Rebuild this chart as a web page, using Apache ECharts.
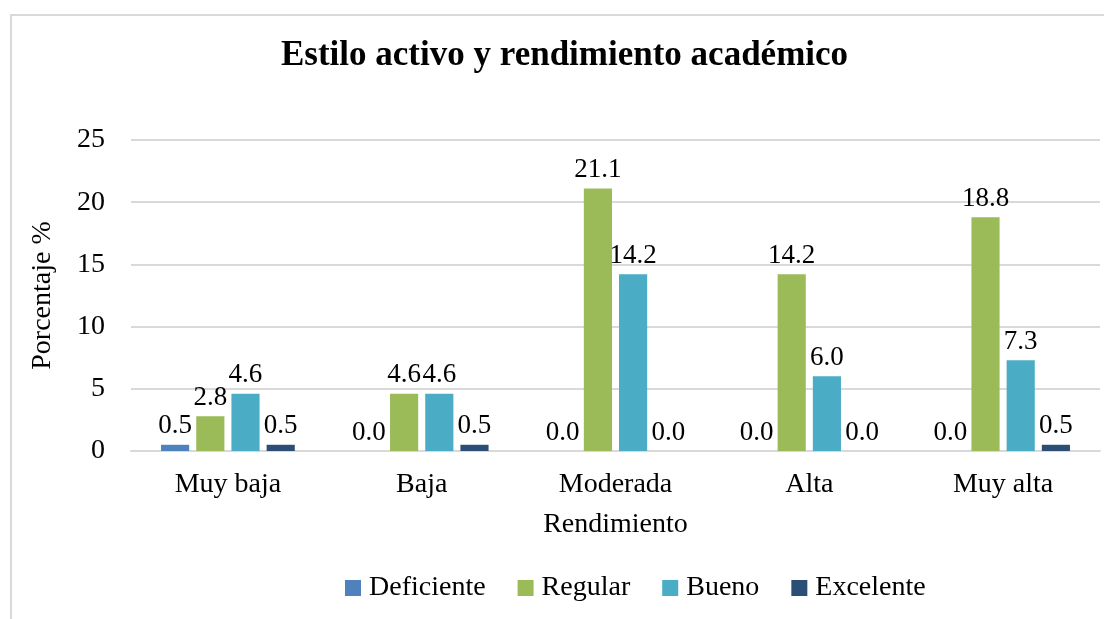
<!DOCTYPE html>
<html>
<head>
<meta charset="utf-8">
<script src="https://cdn.jsdelivr.net/npm/echarts@6/dist/echarts.min.js"></script>
<style>
  html, body { margin: 0; padding: 0; background: #fff; }
  #main { width: 1104px; height: 619px; }
</style>
</head>
<body>
<div id="main"></div>
<script>
// categorias de rendimiento
var categorias = ['Muy baja', 'Baja', 'Moderada', 'Alta', 'Muy alta'];
// porcentajes por nivel
var deficiente = [0.5, 0.0, 0.0, 0.0, 0.0];
var regular = [2.8, 4.6, 21.1, 14.2, 18.8];
var bueno = [4.6, 4.6, 14.2, 6.0, 7.3];
var excelente = [0.5, 0.5, 0.0, 0.0, 0.5];

var fuente = '"Liberation Serif", "Times New Roman", serif';
var chart = echarts.init(document.getElementById('main'));

function serie(nombre, datos) {
  return {
    name: nombre,
    type: 'bar',
    data: datos,
    barGap: '25%',
    barCategoryGap: '31%',
    label: {
      show: true,
      position: 'top',
      distance: 5,
      color: '#000',
      fontFamily: fuente,
      fontSize: 27,
      formatter: function (p) { return p.value.toFixed(1); }
    }
  };
}

chart.setOption({
  animation: false,
  color: ['#4F81BD', '#9BBB59', '#4BACC6', '#2C4D75'],
  graphic: [{
    type: 'rect',
    shape: { x: 11, y: 15, width: 1200, height: 700 },
    style: { fill: 'none', stroke: '#d9d9d9', lineWidth: 2 },
    silent: true
  }],
  title: {
    text: 'Estilo activo y rendimiento académico',
    left: 281,
    top: 38,
    padding: 0,
    textStyle: { fontFamily: fuente, fontSize: 35, fontWeight: 'bold', color: '#000' }
  },
  legend: {
    left: 340,
    top: 569,
    itemWidth: 16,
    itemHeight: 16,
    itemGap: 32,
    icon: 'rect',
    textStyle: { fontFamily: fuente, fontSize: 28, color: '#000', padding: [0, 0, 0, 3] },
    data: ['Deficiente', 'Regular', 'Bueno', 'Excelente']
  },
  grid: { left: 131, right: 4, top: 140, bottom: 168, containLabel: false },
  xAxis: {
    type: 'category',
    data: categorias,
    name: 'Rendimiento',
    nameLocation: 'middle',
    nameGap: 60,
    nameTextStyle: { fontFamily: fuente, fontSize: 28, color: '#000' },
    axisLine: { lineStyle: { color: '#d9d9d9', width: 2 } },
    axisTick: { show: false },
    axisLabel: { fontFamily: fuente, fontSize: 28, color: '#000', margin: 20 }
  },
  yAxis: {
    type: 'value',
    min: 0,
    max: 25,
    interval: 5,
    name: 'Porcentaje %',
    nameLocation: 'middle',
    nameGap: 74,
    nameTextStyle: { fontFamily: fuente, fontSize: 28, color: '#000' },
    axisLine: { show: false },
    axisTick: { show: false },
    splitLine: { lineStyle: { color: '#d9d9d9', width: 2 } },
    axisLabel: { fontFamily: fuente, fontSize: 28, color: '#000', margin: 26 }
  },
  series: [
    serie('Deficiente', deficiente),
    serie('Regular', regular),
    serie('Bueno', bueno),
    serie('Excelente', excelente)
  ]
});
</script>
</body>
</html>
